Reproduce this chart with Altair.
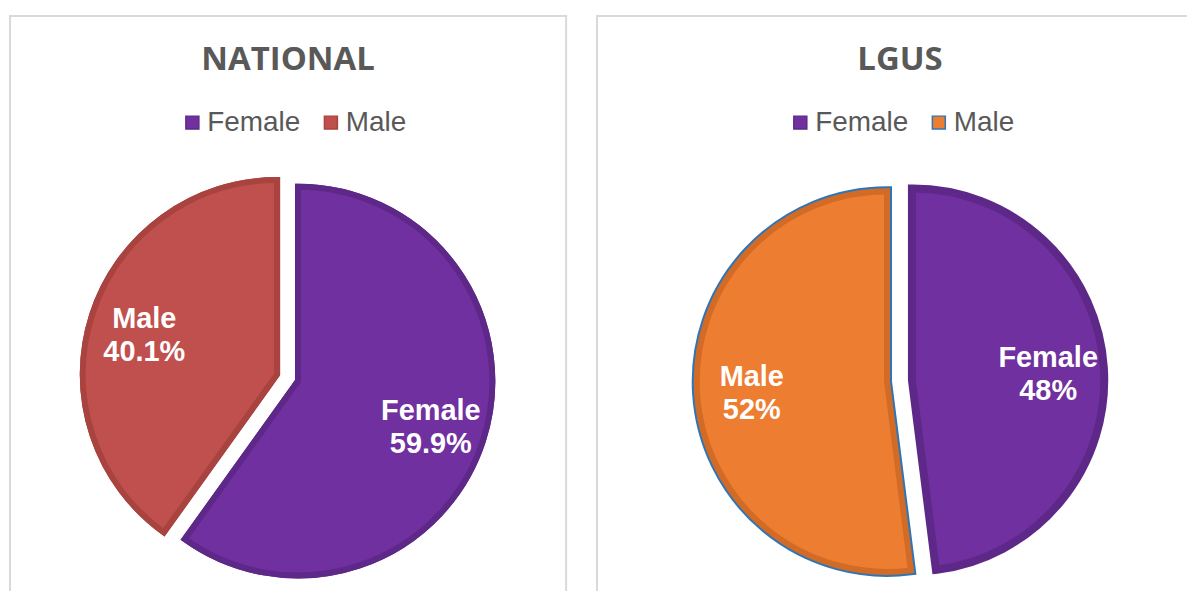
import math
import altair as alt
import pandas as pd

# ---- data ----
categories = ["Female", "Male"]
panel_titles = ["NATIONAL", "LGUS"]
national_values = [59.9, 40.1]
national_pct = ["59.9%", "40.1%"]
lgus_values = [48, 52]
lgus_pct = ["48%", "52%"]

PURPLE = "#7030A0"
PURPLE_DARK = "#5E2889"
RED = "#C0504D"
RED_DARK = "#A8433F"
ORANGE = "#ED7D31"
ORANGE_DARK = "#D26B26"
BLUE = "#2E75B6"
GRID = "#D9D9D9"
TEXT = "#595959"

H = 578


def slices(values, pct, explode, label_r):
    total = float(sum(values))
    rows = []
    acc = 0.0
    for cat, v, p in zip(categories, values, pct):
        start = acc / total * 2 * math.pi
        acc += v
        end = acc / total * 2 * math.pi
        mid = (start + end) / 2
        dx = explode * math.sin(mid)
        dy = -explode * math.cos(mid)
        rows.append(dict(sex=cat, value=v, start=start, end=end, cx=dx, cy=dy,
                         lx=dx + label_r * math.sin(mid),
                         ly=dy - label_r * math.cos(mid),
                         label=f"{cat}\n{p}"))
    return pd.DataFrame(rows)


def panel(title, df, width, cx, cy, radius, fills, darks, outlines, outline_w,
          legend_x, title_x, right_border=True):
    xs = alt.Scale(domain=[-cx, width - cx], nice=False, zero=False)
    ys = alt.Scale(domain=[-cy, H - cy], nice=False, zero=False, reverse=True)

    def X(f):
        return alt.X(f"{f}:Q", scale=xs, axis=None)

    def Y(f):
        return alt.Y(f"{f}:Q", scale=ys, axis=None)

    leg = alt.Legend(orient="none", legendX=legend_x, legendY=94, direction="horizontal",
                     title=None, symbolType="square", symbolSize=169, symbolStrokeWidth=1.5,
                     labelFontSize=28, labelFont="Liberation Sans", labelColor=TEXT,
                     labelOffset=1, columnPadding=16, padding=0)
    fill = alt.Fill("sex:N", scale=alt.Scale(domain=categories, range=fills), legend=leg)
    stroke = alt.Stroke("sex:N", scale=alt.Scale(domain=categories, range=outlines), legend=leg)

    base = alt.Chart(df)
    theta = alt.Theta("start:Q", scale=None)
    theta2 = alt.Theta2("end:Q")

    outline = base.mark_arc(radius=radius, strokeWidth=outline_w, strokeJoin="miter").encode(
        x=X("cx"), y=Y("cy"), theta=theta, theta2=theta2, fill=fill, stroke=stroke)
    main = base.mark_arc(radius=radius, strokeWidth=6, strokeJoin="miter").encode(
        x=X("cx"), y=Y("cy"), theta=theta, theta2=theta2, fill=fill,
        stroke=alt.when(alt.datum.sex == "Male").then(alt.value(darks[1])).otherwise(alt.value(darks[0])))
    labels = base.mark_text(font="Liberation Sans", fontWeight="bold", fontSize=29, color="white",
                            lineBreak="\n", lineHeight=33, align="center", baseline="middle",
                            dy=-13).encode(
        x=X("lx"), y=Y("ly"), text="label:N")

    one = alt.Chart(pd.DataFrame({"t": [title]}))
    ttl = one.mark_text(font="Open Sans", fontWeight="bold", fontSize=33, color=TEXT,
                        align="center", baseline="alphabetic").encode(
        x=alt.value(title_x), y=alt.value(55), text="t:N")
    frame = one.mark_rule(color=GRID, strokeWidth=2)
    layers = [
        frame.encode(x=alt.value(0), x2=alt.value(width), y=alt.value(1)),
        frame.encode(x=alt.value(1), y=alt.value(0), y2=alt.value(H)),
    ]
    if right_border:
        layers.append(frame.encode(x=alt.value(width - 1), y=alt.value(0), y2=alt.value(H)))
    layers += [ttl, outline, main, labels]
    return alt.layer(*layers).properties(width=width, height=H)


nat = slices(national_values, national_pct, explode=11, label_r=140)
lgu = slices(lgus_values, lgus_pct, explode=13, label_r=136)

left = panel(panel_titles[0], nat, 560, 279.5, 364, 195,
             [PURPLE, RED], [PURPLE_DARK, RED_DARK], [PURPLE_DARK, RED_DARK], 6,
             legend_x=170, title_x=280)
right = panel(panel_titles[1], lgu, 593, 305, 367, 191,
              [PURPLE, ORANGE], [PURPLE_DARK, ORANGE_DARK], [PURPLE_DARK, BLUE], 10,
              legend_x=191, title_x=305, right_border=False)

chart = alt.hconcat(left, right, spacing=27).resolve_scale(
    fill="independent", stroke="independent", x="independent", y="independent"
).resolve_legend(fill="independent", stroke="independent").properties(
    padding={"left": 0, "top": 5, "right": 0, "bottom": 0}
).configure_view(strokeWidth=0)

chart.save("out.html", embed_options={"renderer": "svg", "actions": False})
